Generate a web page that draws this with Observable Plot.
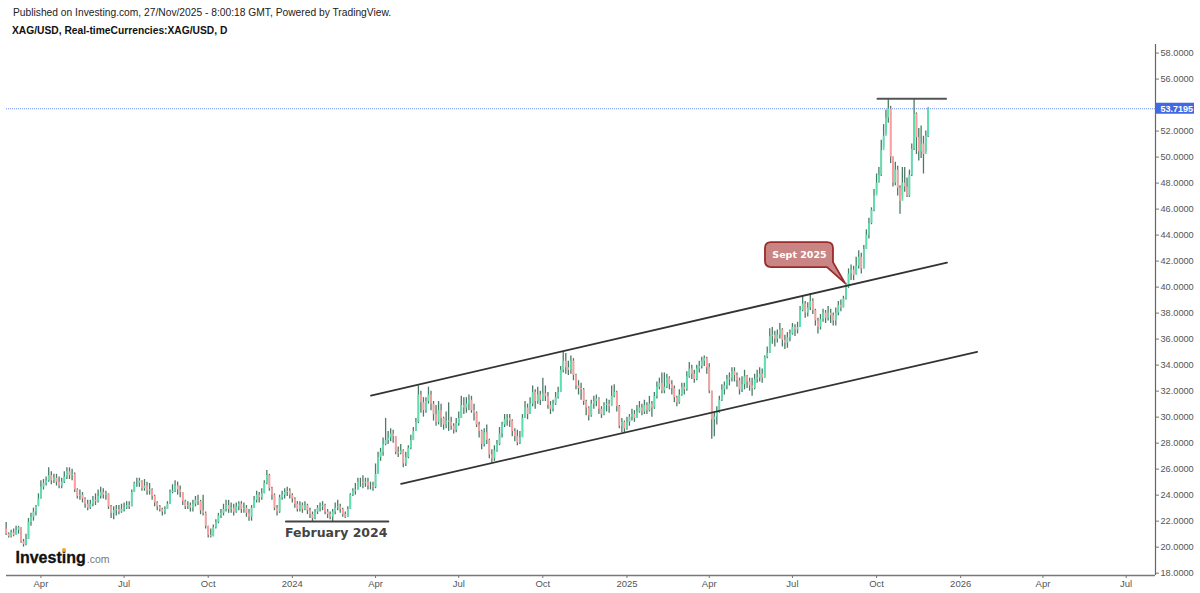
<!DOCTYPE html>
<html><head><meta charset="utf-8">
<script src="https://cdn.jsdelivr.net/npm/d3@7"></script>
<script src="https://cdn.jsdelivr.net/npm/@observablehq/plot@0.6"></script>
<style>
html,body{margin:0;padding:0;background:#fff;width:1200px;height:593px;overflow:hidden}
#wrap{position:relative;width:1200px;height:593px;font-family:"Liberation Sans",sans-serif}
#t1{position:absolute;left:13px;top:7px;font-size:10.25px;color:#222;white-space:nowrap}
#t2{position:absolute;left:12px;top:25px;font-size:10.25px;font-weight:bold;color:#111;white-space:nowrap}
#chart{position:absolute;left:0;top:44px}
#logo{position:absolute;left:15.5px;top:549px;font-weight:bold;font-size:16px;color:#111;white-space:nowrap;line-height:18px;-webkit-text-stroke:.3px #111}
#logo span{font-weight:normal;font-size:10.5px;color:#777;margin-left:1px;-webkit-text-stroke:0}
#dot{position:absolute;left:62px;top:548px;width:4px;height:4px;border-radius:50%;background:#f5a623}
</style></head><body>
<div id="wrap">
<div id="t1">Published on Investing.com, 27/Nov/2025 - 8:00:18 GMT, Powered by TradingView.</div>
<div id="t2">XAG/USD, Real-timeCurrencies:XAG/USD, D</div>
<div id="chart"></div>
<div id="logo">Investing<span>.com</span></div>
<div id="dot"></div>
</div>
<script>
// each bar: [close, high, low]; open = previous close
const bars2023Q1 = [[21.0,21.9,20.9],[20.8,21.1,20.7],[21.1,21.3,20.7],[20.9,21.4,20.8],[21.3,21.6,21.0],[21.5,21.6,21.0],[20.4,21.5,20.3],[20.2,20.6,20.0],[20.6,21.0,20.1],[21.9,22.2,20.6],[22.3,22.6,21.6],[22.7,23.0,22.0],[23.1,23.2,22.4],[23.7,24.1,23.2]];
const bars2023Q2 = [[24.6,25.1,23.7],[24.9,25.2,24.4],[25.1,25.4,24.7],[25.5,26.1,25.0],[25.1,25.8,24.8],[25.3,25.6,24.9],[25.0,25.6,24.7],[24.7,25.4,24.5],[25.0,25.3,24.5],[25.4,25.8,24.9],[25.8,26.1,25.2],[25.5,26.1,25.2],[25.6,26.0,25.1],[24.4,25.7,24.2],[23.9,24.5,23.7],[24.0,24.4,23.6],[23.7,24.2,23.4],[23.3,23.8,23.0],[23.0,23.6,22.8],[23.3,23.6,22.9],[23.6,23.9,23.1],[23.5,24.1,23.2],[23.9,24.4,23.4],[24.2,24.6,23.7],[24.0,24.5,23.7],[24.1,24.3,23.6],[23.1,24.1,22.9],[22.6,23.2,22.2],[22.8,23.1,22.1],[22.9,23.2,22.4],[22.7,23.2,22.5],[22.9,23.3,22.6]];
const bars2023Q3 = [[23.0,23.4,22.7],[23.2,23.5,22.9],[23.1,23.5,22.9],[24.2,24.4,23.1],[24.9,25.0,24.2],[24.9,25.3,24.6],[25.1,25.3,24.6],[24.5,25.1,24.3],[24.7,25.2,24.3],[24.3,25.0,24.0],[24.4,24.9,24.0],[23.9,24.5,23.6],[23.4,24.0,23.1],[23.1,23.5,22.8],[22.9,23.2,22.7],[22.7,23.0,22.4],[22.9,23.1,22.5],[23.3,23.5,22.9],[24.2,24.4,23.3],[24.3,24.8,24.1],[24.7,25.1,24.2],[24.4,25.0,24.0],[24.2,24.7,23.8],[23.5,24.2,23.2],[23.1,23.6,22.9],[23.2,23.5,22.9],[23.0,23.4,22.7],[23.3,23.6,22.7],[23.6,23.9,23.1],[23.5,24.0,23.2],[22.8,23.6,22.5],[22.6,24.0,22.4],[21.6,22.7,21.4]];
const bars2023Q4 = [[20.9,21.6,20.7],[20.8,21.4,20.7],[21.5,21.7,20.8],[21.9,22.1,21.4],[22.4,22.6,21.8],[22.6,22.9,22.2],[22.9,23.3,22.4],[23.2,23.6,22.7],[22.9,23.6,22.6],[23.0,23.4,22.6],[22.7,23.3,22.4],[23.1,23.4,22.6],[23.3,23.5,22.8],[22.9,23.5,22.6],[23.0,23.4,22.6],[22.6,23.2,22.3],[22.3,22.9,22.0],[23.0,23.2,22.0],[23.6,23.9,23.0],[24.0,24.3,23.4],[23.8,24.2,23.4],[24.1,24.5,23.6],[24.9,25.1,24.1],[25.5,25.9,24.8],[24.5,25.6,24.3],[24.0,24.6,23.6],[23.0,24.1,22.8],[22.7,23.2,22.4],[23.8,24.0,22.6],[24.0,24.3,23.6],[24.2,24.5,23.7],[24.3,24.6,23.9],[24.0,24.5,23.7]];
const bars2024Q1 = [[23.7,24.1,23.4],[23.3,23.8,23.0],[22.9,23.5,22.7],[23.2,23.5,22.7],[22.9,23.4,22.6],[23.2,23.5,22.8],[22.8,23.3,22.5],[22.5,23.0,22.2],[22.2,22.7,21.9],[22.7,22.9,22.1],[23.0,23.2,22.5],[23.1,23.4,22.7],[23.2,23.5,22.8],[22.7,23.3,22.5],[22.5,22.9,22.2],[22.3,22.7,22.1],[22.7,22.9,21.9],[23.0,23.4,22.5],[23.1,23.6,22.8],[22.9,23.3,22.6],[22.5,23.0,22.3],[22.3,22.7,22.2],[22.9,23.1,22.3],[24.0,24.1,22.9],[24.3,24.5,23.9],[24.4,24.9,24.0],[25.0,25.3,24.4],[25.0,25.3,24.6],[24.9,25.5,24.5],[25.0,25.3,24.6],[24.7,25.3,24.4],[24.7,25.0,24.4],[24.6,25.0,24.3]];
const bars2024Q2 = [[25.6,26.4,24.5],[26.9,27.3,25.6],[27.3,27.6,26.6],[27.9,28.4,27.0],[28.2,29.9,27.8],[28.4,28.9,27.9],[28.7,29.1,28.1],[28.5,29.0,28.0],[27.3,28.5,27.1],[27.2,27.7,26.9],[27.4,27.9,27.1],[26.4,27.5,26.1],[26.9,27.3,26.2],[27.6,27.8,26.8],[28.2,28.6,27.5],[28.9,29.2,28.2],[29.6,29.9,28.9],[31.7,32.4,29.5],[31.1,32.0,30.3],[30.5,31.5,30.0],[31.2,31.5,30.3],[31.7,32.3,31.0],[31.0,32.0,30.5],[30.2,31.2,29.7],[29.6,30.9,29.3],[30.5,31.2,29.4],[29.9,31.0,29.2],[29.4,30.0,29.0],[29.7,30.4,29.1],[29.6,31.1,28.9],[29.3,30.0,29.0],[29.0,29.5,28.7],[29.5,29.9,28.8]];
const bars2024Q3 = [[29.9,30.4,29.3],[30.9,31.6,29.9],[30.7,31.5,30.2],[31.0,31.5,30.3],[31.3,31.7,30.5],[30.5,31.6,30.3],[30.3,31.0,29.7],[29.4,30.4,29.2],[28.9,29.6,28.4],[27.9,29.0,27.5],[28.8,29.1,27.7],[28.2,29.4,27.9],[27.1,28.3,26.8],[26.8,27.5,26.5],[27.4,27.8,26.6],[27.9,28.2,27.3],[28.7,29.2,27.8],[29.4,29.6,28.4],[29.8,30.2,29.2],[29.9,30.2,29.3],[29.7,30.2,29.2],[28.9,29.8,28.5],[28.5,29.1,28.1],[28.0,29.0,27.8],[28.4,28.9,27.9],[29.9,30.2,28.5],[30.7,31.2,29.9],[30.2,31.0,29.8],[31.0,31.5,30.2],[31.9,32.4,30.8],[31.2,32.1,30.6],[31.7,32.3,31.0],[31.3,32.0,30.9]];
const bars2024Q4 = [[31.8,33.0,31.2],[31.6,32.4,31.2],[30.9,31.9,30.6],[30.6,31.2,30.2],[31.0,31.3,30.4],[31.5,31.9,30.9],[31.9,32.3,31.4],[33.6,33.9,31.9],[34.3,35.0,33.4],[33.8,34.9,33.3],[33.6,34.3,33.2],[34.3,34.7,33.3],[33.2,34.5,32.8],[32.4,33.3,32.1],[32.2,32.8,31.7],[32.1,32.6,31.3],[31.2,32.2,30.9],[30.7,31.3,30.1],[30.1,30.8,29.7],[31.0,31.3,30.0],[31.2,31.6,30.6],[31.4,31.7,30.8],[30.6,31.5,30.2],[30.2,30.8,29.9],[30.9,31.1,30.1],[31.0,31.4,30.4],[30.8,31.3,30.3],[31.6,32.4,30.9],[31.9,32.5,31.5],[30.8,32.0,30.4],[29.3,30.9,29.1],[29.6,29.9,28.8],[29.1,29.7,28.8]];
const bars2025Q1 = [[29.6,30.0,29.0],[30.0,30.2,29.3],[30.2,30.6,29.7],[29.9,30.5,29.6],[30.4,30.9,29.9],[30.7,31.2,30.3],[30.4,31.0,30.1],[30.9,31.3,30.2],[30.5,31.1,30.2],[31.0,31.6,30.4],[30.7,31.2,30.0],[31.6,31.9,30.6],[32.3,32.7,31.4],[32.6,33.0,32.1],[32.0,33.4,31.8],[32.3,33.4,31.8],[33.0,33.3,32.2],[32.5,33.1,32.1],[32.2,32.8,31.7],[31.5,32.4,31.1],[31.1,31.6,30.8],[31.7,32.1,31.0],[32.3,32.6,31.6],[32.1,32.6,31.7],[33.1,33.5,32.0],[33.7,34.2,33.0],[33.3,34.0,32.9],[32.9,33.6,32.6],[33.7,34.0,32.8],[33.9,34.3,33.4],[34.3,34.6,33.7],[34.5,34.7,33.9],[33.8,34.6,33.3]];
const bars2025Q2 = [[32.0,34.1,31.8],[29.8,32.0,28.3],[30.0,30.4,28.5],[30.4,30.8,29.4],[31.3,31.6,30.3],[32.1,32.5,31.2],[32.4,32.7,31.7],[32.9,33.2,32.1],[33.0,33.4,32.4],[33.5,33.8,32.7],[33.2,33.8,32.7],[32.8,33.4,32.3],[32.1,33.0,31.7],[32.5,33.1,31.9],[33.1,33.6,32.1],[32.7,33.2,32.2],[32.4,33.0,32.0],[32.2,33.0,31.6],[32.9,33.3,32.1],[33.0,33.6,32.6],[33.3,33.8,32.7],[33.0,33.7,32.6],[34.6,34.7,33.0],[34.9,35.4,34.5],[36.2,36.8,34.9],[36.3,36.9,35.6],[36.0,36.6,35.4],[36.3,36.7,35.7],[36.7,37.2,36.0],[35.9,36.8,35.4],[35.7,36.3,35.2],[36.1,36.5,35.3],[36.4,36.7,35.8]];
const bars2025Q3 = [[36.9,37.2,36.3],[36.7,37.1,36.2],[36.9,37.3,36.4],[38.2,38.5,36.9],[38.7,39.3,38.1],[38.0,38.9,37.6],[38.4,38.8,37.7],[38.9,39.5,38.2],[38.2,39.1,37.9],[37.4,38.3,37.0],[36.9,37.6,36.4],[37.5,37.9,36.7],[38.0,38.3,37.3],[37.6,38.2,37.2],[38.0,38.5,37.4],[37.8,38.3,37.2],[37.4,38.0,37.0],[38.0,38.4,37.0],[38.6,38.9,37.8],[38.4,39.0,38.1],[39.1,39.3,38.4],[40.0,40.3,39.0],[41.0,41.4,39.9],[41.3,41.7,40.5],[40.9,41.6,40.5],[41.6,42.3,41.0],[42.3,42.8,41.4],[41.4,42.6,41.0],[42.9,43.2,41.4],[44.0,44.4,42.9],[44.9,45.3,43.7],[45.9,46.1,44.8],[47.0,47.5,45.8]];
const bars2025Q4 = [[48.0,48.7,47.2],[48.6,49.2,48.0],[50.5,51.3,48.5],[51.6,52.5,50.7],[53.0,53.6,51.8],[53.7,54.45,52.6],[50.0,53.9,49.5],[48.0,50.0,47.7],[49.0,49.6,47.8],[47.6,49.3,47.0],[46.6,47.8,45.6],[48.0,49.2,47.0],[47.7,49.2,47.3],[47.0,48.4,46.9],[48.6,49.0,46.9],[50.6,51.0,48.5],[53.3,54.45,50.5],[51.5,53.4,50.2],[50.4,52.2,49.7],[51.0,52.4,49.9],[50.2,51.6,48.7],[51.6,52.0,50.4],[53.72,53.8,51.5]];

const segmentStarts = ["2023-02-22","2023-04-01","2023-07-01","2023-10-01","2024-01-01","2024-04-01","2024-07-01","2024-10-01","2025-01-01","2025-04-01","2025-07-01","2025-10-01","2025-11-29"];
const segments = [bars2023Q1,bars2023Q2,bars2023Q3,bars2023Q4,bars2024Q1,bars2024Q2,bars2024Q3,bars2024Q4,bars2025Q1,bars2025Q2,bars2025Q3,bars2025Q4];

const yTicks = [58,56,52,50,48,46,44,42,40,38,36,34,32,30,28,26,24,22,20,18];
const xTickDates = ["2023-04-01","2023-07-01","2023-10-01","2024-01-01","2024-04-01","2024-07-01","2024-10-01","2025-01-01","2025-04-01","2025-07-01","2025-10-01","2026-01-01","2026-04-01","2026-07-01"];
const xTickLabels = ["Apr","Jul","Oct","2024","Apr","Jul","Oct","2025","Apr","Jul","Oct","2026","Apr","Jul"];
const lastPrice = 53.7195;
const upperChannel = [["2024-03-27",31.66],["2025-12-17",41.89]];
const lowerChannel = [["2024-04-29",24.87],["2026-01-19",35.02]];
const topLine = [["2025-10-02",54.48],["2025-12-16",54.48]];
const febLine = [["2023-12-25",21.97],["2024-04-15",21.97]];
const febLabel = ["2024-02-18",21.12,"February 2024"];
const sept = ["2025-08-28",40.27,"Sept 2025"];

const D = s => new Date(s + "T00:00:00Z");
const bars = [];
let prevClose = 21.4;
segments.forEach((seg,k)=>{
  const a = +D(segmentStarts[k]), b = +D(segmentStarts[k+1]);
  seg.forEach((r,i)=>{
    bars.push({date:new Date(a+(b-a)*i/seg.length),open:prevClose,close:r[0],high:r[1],low:r[2]});
    prevClose = r[0];
  });
});
const pts = arr => arr.map(([d,v])=>({date:D(d),value:v}));
const yMin = 17.82, yMax = 58.66;
const xDom = [new Date("2023-02-22T09:00:00Z"), new Date("2026-08-02T02:00:00Z")];
const labelMap = new Map(xTickDates.map((d,i)=>[+D(d),xTickLabels[i]]));

function calloutShape(index, scales, values, dims){
  const tx = scales.x(D(sept[0])), ty = scales.y(sept[1]);
  const L=tx-80, R=tx-12, T=ty-41, B=ty-16, r=6;
  const path = `M${L+r},${T}H${R-r}Q${R},${T} ${R},${T+r}V${B-5}L${tx},${ty}L${R-6},${B}H${L+r}Q${L},${B} ${L},${B-r}V${T+r}Q${L},${T} ${L+r},${T}Z`;
  const g = d3.create("svg:g");
  g.append("path").attr("d",path).attr("fill","#c98484").attr("stroke","#9b2a2a").attr("stroke-width",1.8).attr("stroke-linejoin","round");
  return g.node();
}
function priceBox(index, scales, values, dims){
  const y = scales.y(lastPrice), x = dims.width - dims.marginRight;
  const g = d3.create("svg:g");
  g.append("rect").attr("x",x).attr("y",y-5.5).attr("width",39).attr("height",11).attr("fill","#4169e1");
  return g.node();
}

const chart = Plot.plot({
  width:1200, height:549, marginTop:0, marginBottom:18, marginLeft:6, marginRight:45,
  style:{fontFamily:'"Liberation Sans",sans-serif',fontSize:"9px",background:"transparent",overflow:"visible"},
  x:{type:"utc",domain:xDom},
  y:{domain:[yMin,yMax]},
  marks:[
    Plot.ruleY([lastPrice],{stroke:"#6f90ee",strokeWidth:1.2,strokeDasharray:"1,1"}),
    Plot.ruleX(bars,{x:"date",y1:"low",y2:"high",stroke:"#4c7a68",strokeWidth:1.3}),
    Plot.ruleX(bars,{x:"date",y1:"open",y2:"close",stroke:d=>d.close>=d.open?"#5be0ae":"#ff9d9d",strokeWidth:1.8}),
    Plot.line(pts(upperChannel),{x:"date",y:"value",stroke:"#333",strokeWidth:1.8}),
    Plot.line(pts(lowerChannel),{x:"date",y:"value",stroke:"#333",strokeWidth:1.8}),
    Plot.line(pts(topLine),{x:"date",y:"value",stroke:"#555",strokeWidth:2}),
    Plot.line(pts(febLine),{x:"date",y:"value",stroke:"#444",strokeWidth:2}),
    Plot.text([febLabel],{x:d=>D(d[0]),y:d=>d[1],text:d=>d[2],fill:"#444",fontSize:12.5,fontWeight:"bold",fontFamily:"DejaVu Sans"}),
    calloutShape,
    Plot.text([sept],{x:d=>D(d[0]),y:d=>d[1],text:d=>d[2],dx:-46,dy:-29,fill:"#fff",fontSize:9.5,fontWeight:"bold",fontFamily:"DejaVu Sans"}),
    Plot.ruleY([yMin],{stroke:"#777",strokeWidth:1.5}),
    Plot.ruleX([xDom[1]],{stroke:"#666",strokeWidth:1.2}),
    Plot.axisX({ticks:xTickDates.map(D),tickFormat:d=>labelMap.get(+d),tickSize:3,tickPadding:2,stroke:"#777",color:"#555",fontSize:9.5,label:null}),
    Plot.axisY({anchor:"right",ticks:yTicks,tickFormat:d3.format(".4f"),tickSize:3,tickPadding:2,stroke:"#777",color:"#555",fontSize:9.2,dy:0,label:null}),
    priceBox,
    Plot.text([lastPrice],{y:d=>d,frameAnchor:"right",textAnchor:"start",dx:5,text:d=>d.toFixed(4),fill:"#fff",fontSize:9,fontWeight:"bold"})
  ]
});
document.getElementById("chart").appendChild(chart);
</script>
</body></html>
